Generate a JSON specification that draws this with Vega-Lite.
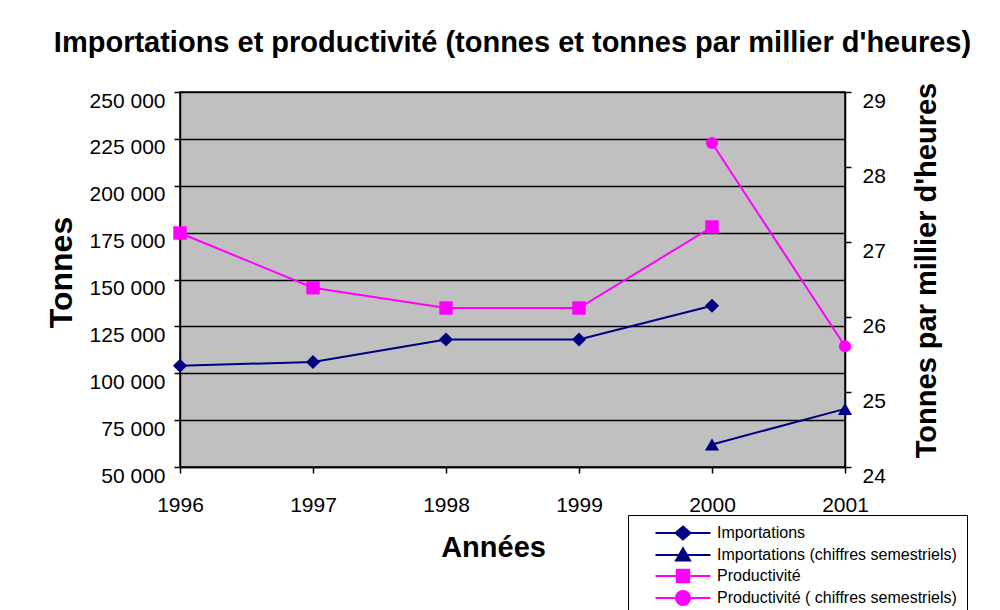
{
  "$schema": "https://vega.github.io/schema/vega-lite/v6.json",
  "width": 665,
  "height": 375,
  "autosize": {"type": "none"},
  "padding": {"left": 180, "top": 92, "right": 155, "bottom": 143},
  "background": "white",
  "title": {
    "text": "Importations et productivité (tonnes et tonnes par millier d'heures)",
    "font": "Liberation Sans",
    "fontSize": 29,
    "fontWeight": "bold",
    "color": "#000",
    "anchor": "middle",
    "frame": "group",
    "offset": 24
  },
  "config": {
    "font": "Liberation Sans",
    "view": {"fill": "#C0C0C0", "stroke": "#000", "strokeWidth": 1.5},
    "axis": {
      "domainColor": "#000",
      "domainWidth": 1.5,
      "tickColor": "#000",
      "tickWidth": 1.5,
      "tickSize": 6,
      "labelColor": "#000",
      "labelFont": "Liberation Sans",
      "labelFontSize": 21,
      "titleColor": "#000",
      "titleFont": "Liberation Sans",
      "titleFontSize": 29,
      "titleFontWeight": "bold",
      "gridColor": "#000",
      "gridWidth": 1.5,
      "gridOpacity": 1
    }
  },
  "data": {
    "values": [
      {"annee": 1996, "serie": "Importations", "axe": "gauche", "valeur": 104000},
      {"annee": 1997, "serie": "Importations", "axe": "gauche", "valeur": 106000},
      {"annee": 1998, "serie": "Importations", "axe": "gauche", "valeur": 118000},
      {"annee": 1999, "serie": "Importations", "axe": "gauche", "valeur": 118000},
      {"annee": 2000, "serie": "Importations", "axe": "gauche", "valeur": 136000},
      {"annee": 2000, "serie": "Importations (chiffres semestriels)", "axe": "gauche", "valeur": 62000},
      {"annee": 2001, "serie": "Importations (chiffres semestriels)", "axe": "gauche", "valeur": 81000},
      {"annee": 1996, "serie": "Productivité", "axe": "droite", "valeur": 27.12},
      {"annee": 1997, "serie": "Productivité", "axe": "droite", "valeur": 26.39},
      {"annee": 1998, "serie": "Productivité", "axe": "droite", "valeur": 26.12},
      {"annee": 1999, "serie": "Productivité", "axe": "droite", "valeur": 26.12},
      {"annee": 2000, "serie": "Productivité", "axe": "droite", "valeur": 27.2},
      {"annee": 2000, "serie": "Productivité ( chiffres semestriels)", "axe": "droite", "valeur": 28.32},
      {"annee": 2001, "serie": "Productivité ( chiffres semestriels)", "axe": "droite", "valeur": 25.61}
    ]
  },
  "encoding": {
    "x": {
      "field": "annee",
      "type": "quantitative",
      "scale": {"domain": [1996, 2001], "nice": false, "zero": false},
      "axis": {
        "values": [1996, 1997, 1998, 1999, 2000, 2001],
        "format": "d",
        "title": "Années",
        "titleX": 313,
        "grid": false,
        "labelPadding": 21,
        "titlePadding": 18,
        "labelFlush": false
      }
    },
    "color": {
      "field": "serie",
      "type": "nominal",
      "scale": {
        "domain": ["Importations", "Importations (chiffres semestriels)", "Productivité", "Productivité ( chiffres semestriels)"],
        "range": ["#000080", "#000080", "#FF00FF", "#FF00FF"]
      },
      "legend": {
        "title": null,
        "orient": "none",
        "legendX": 448,
        "legendY": 423,
        "padding": 10,
        "strokeColor": "#000",
        "fillColor": "#fff",
        "labelFont": "Liberation Sans",
        "labelFontSize": 16,
        "labelColor": "#000",
        "labelLimit": 400,
        "rowPadding": 0,
        "symbolSize": 196,
        "symbolStrokeWidth": 2,
        "symbolOpacity": 1,
        "symbolOffset": 37,
        "labelOffset": 26,
        "encode": {
          "symbols": {
            "update": {
              "size": {"value": 196},
              "shape": {"signal": "datum.value === 'Importations' ? 'M-3.93,0H3.93M0,-0.93L1.07,0L0,0.93L-1.07,0Z' : datum.value === 'Importations (chiffres semestriels)' ? 'M-3.93,0H3.93M0,-0.95L1,0.8L-1,0.8Z' : datum.value === 'Productivité' ? 'M-3.93,0H3.93M-0.88,-0.88H0.88V0.88H-0.88Z' : 'M-3.93,0H3.93M-1,0A1,1,0,1,1,1,0A1,1,0,1,1,-1,0Z'"}
            }
          }
        }
      }
    }
  },
  "layer": [
    {
      "transform": [{"filter": "datum.axe === 'gauche'"}],
      "encoding": {
        "y": {
          "field": "valeur",
          "type": "quantitative",
          "scale": {"domain": [50000, 250000], "nice": false, "zero": false},
          "axis": {
            "values": [50000, 75000, 100000, 125000, 150000, 175000, 200000, 225000, 250000],
            "labelExpr": "replace(format(datum.value, ','), ',', ' ')",
            "title": "Tonnes",
            "titleFontSize": 32,
            "titleY": 180,
            "grid": true,
            "labelPadding": 9,
            "labelOffset": 9,
            "titlePadding": 11
          }
        }
      },
      "layer": [
        {"mark": {"type": "line", "strokeWidth": 2}},
        {"transform": [{"filter": "datum.serie === 'Importations'"}], "mark": {"type": "point", "shape": "diamond", "filled": true, "opacity": 1, "size": 200}},
        {"transform": [{"filter": "datum.serie !== 'Importations'"}], "mark": {"type": "point", "shape": "triangle-up", "filled": true, "opacity": 1, "size": 200}}
      ]
    },
    {
      "transform": [{"filter": "datum.axe === 'droite'"}],
      "encoding": {
        "y": {
          "field": "valeur",
          "type": "quantitative",
          "scale": {"domain": [24, 29], "nice": false, "zero": false},
          "axis": {
            "orient": "right",
            "values": [24, 25, 26, 27, 28, 29],
            "title": "Tonnes par millier d'heures",
            "titleAngle": 270,
            "titleY": 178,
            "grid": false,
            "labelPadding": 11,
            "labelOffset": 9,
            "titlePadding": 56
          }
        }
      },
      "layer": [
        {"mark": {"type": "line", "strokeWidth": 2}},
        {"transform": [{"filter": "datum.serie === 'Productivité'"}], "mark": {"type": "point", "shape": "square", "filled": true, "opacity": 1, "size": 180}},
        {"transform": [{"filter": "datum.serie !== 'Productivité'"}], "mark": {"type": "point", "shape": "circle", "filled": true, "opacity": 1, "size": 150}}
      ]
    }
  ],
  "resolve": {"scale": {"y": "independent"}}
}
